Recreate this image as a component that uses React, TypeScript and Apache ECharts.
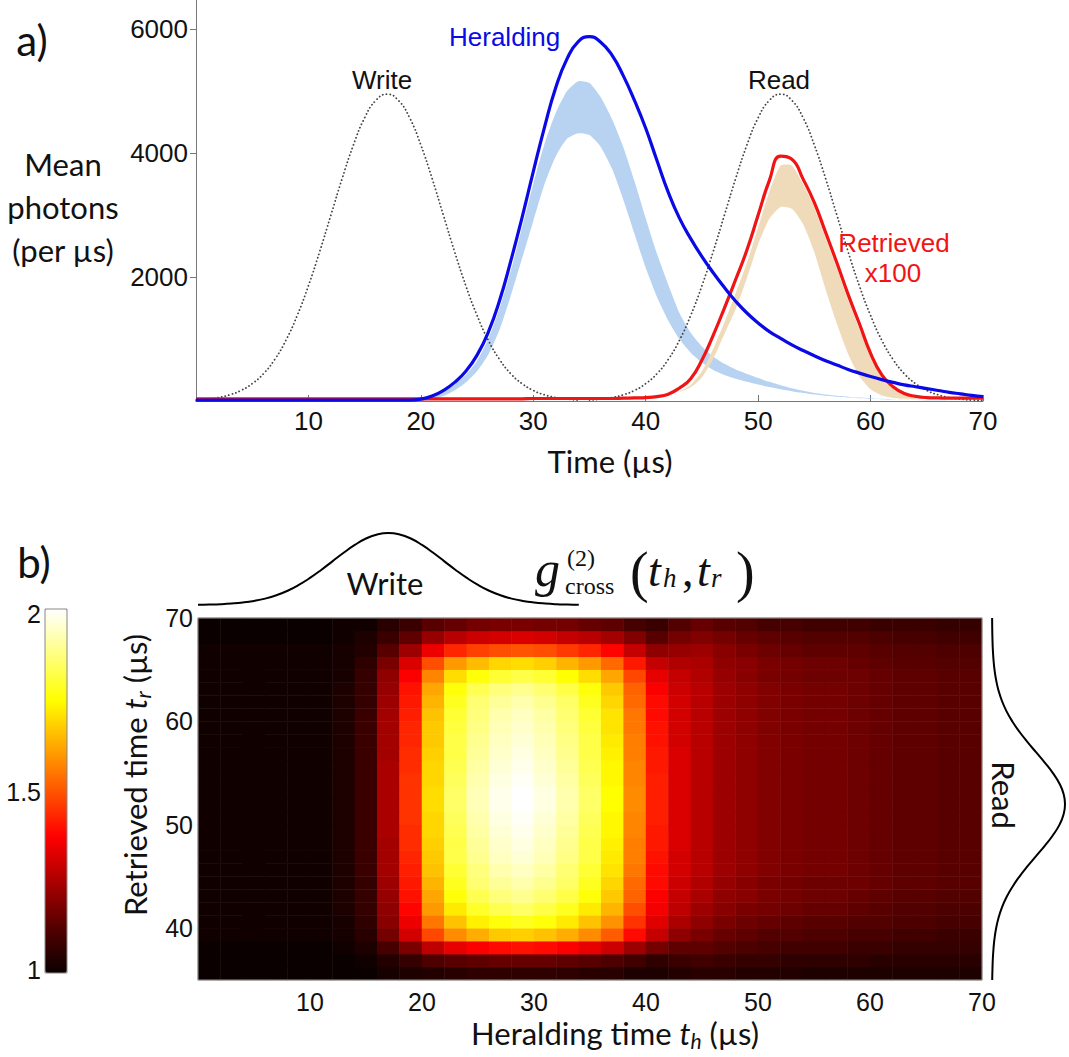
import React, { useEffect, useRef } from "react";
import * as echarts from "echarts";

// ---------------- Panel a data (time in µs, mean photons per µs) ----------------
const times = [0,1,2,3,4,5,6,7,8,9,10,11,12,13,14,15,16,17,18,19,20,21,22,23,24,25,26,27,28,29,30,31,32,33,34,35,36,37,38,39,40,41,42,43,44,45,46,47,48,49,50,51,52,53,54,55,56,57,58,59,60,61,62,63,64,65,66,67,68,69,70];

const heraldingMean = [15,15,15,15,15,15,15,15,15,15,15,15,15,15,15,15,15,15,15,15,
  30,80,170,300,480,740,1110,1620,2260,2960,3700,4420,5060,5520,5800,5880,5790,5580,5250,4850,
  4400,3880,3370,2950,2620,2330,2070,1830,1610,1420,1260,1120,1010,905,815,730,650,580,510,450,
  395,345,300,260,230,200,170,140,115,90,70];

const heraldingBandHigh = [0,0,0,0,0,0,0,0,0,0,0,0,0,0,0,0,0,0,0,0,
  20,70,150,270,420,650,1000,1500,2100,2800,3500,4150,4650,5000,5160,5130,4900,4550,4100,3550,
  2950,2380,1880,1420,1100,880,720,600,510,440,370,310,255,205,165,130,105,85,70,57,
  46,37,30,24,19,15,12,9,7,6,5];

const heraldingBandLow = [0,0,0,0,0,0,0,0,0,0,0,0,0,0,0,0,0,0,0,0,
  0,30,80,170,300,480,750,1150,1700,2300,2900,3500,3950,4230,4320,4290,4100,3750,3250,2700,
  2150,1680,1300,1000,780,620,500,420,360,310,265,225,190,158,130,105,85,68,56,45,
  37,30,24,19,15,12,9,7,5,4,3];

const retrievedMean = [35,35,35,35,35,35,35,35,35,35,35,35,35,35,35,35,35,35,35,35,
  35,35,35,35,35,35,35,35,35,35,40,40,40,40,40,40,40,40,45,50,
  55,70,110,210,360,660,1060,1500,1960,2435,3000,3560,3950,3900,3580,3200,2720,2230,1720,1250,
  770,420,230,120,75,55,50,45,45,45,45];

const retrievedBandTimes = [43,44,45,46,47,48,49,50,51,52,53,54,55,56,57,58,59,60,61,62,63,64];
const retrievedBandHigh = [150,260,480,840,1270,1740,2230,2800,3380,3800,3800,3500,3120,2630,2140,1630,1170,710,380,200,105,65];
const retrievedBandLow = [140,220,380,680,1080,1480,1980,2530,2940,3130,3100,2850,2400,1800,1250,760,400,190,90,50,35,30];

const writeTimes = [0,1,2,3,4,5,6,7,8,9,10,11,12,13,14,15,16,17,18,19,20,21,22,23,24,25,26,27,28,29,30,31,32,33,34];
const writePulse = [15,30,55,100,170,280,440,670,980,1380,1860,2410,3000,3590,4130,4570,4850,4950,4850,4570,4130,3590,3000,2410,1860,1380,980,670,440,280,170,100,55,30,15];

const readTimes = [35,36,37,38,39,40,41,42,43,44,45,46,47,48,49,50,51,52,53,54,55,56,57,58,59,60,61,62,63,64,65,66,67,68,69,70];
const readPulse = [15,30,55,100,170,280,440,670,980,1380,1860,2410,3000,3590,4130,4570,4850,4950,4850,4570,4130,3590,3000,2410,1860,1380,980,670,440,280,170,100,55,30,15,8];

const xTicksA = [10,20,30,40,50,60,70];
const yTicksA = [2000,4000,6000];

// ---------------- Panel b data: g2_cross(t_h, t_r) ----------------
const heatTh = [1,3,5,7,9,11,13,15,17,19,21,23,25,27,29,31,33,35,37,39,41,43,45,47,49,51,53,55,57,59,61,63,65,67,69];
const heatTr = [35.625,36.875,38.125,39.375,40.625,41.875,43.125,44.375,45.625,46.875,48.125,49.375,50.625,51.875,53.125,54.375,55.625,56.875,58.125,59.375,60.625,61.875,63.125,64.375,65.625,66.875,68.125,69.375];
// rows from bottom (t_r = 35.6) to top (t_r = 69.4); columns t_h = 1..69
const g2Rows = [
  [1.00,1.00,1.00,1.00,1.00,1.00,1.00,1.00,1.02,1.03,1.04,1.05,1.06,1.06,1.06,1.06,1.06,1.05,1.05,1.03,1.03,1.04,1.05,1.05,1.04,1.04,1.04,1.03,1.03,1.03,1.03,1.03,1.03,1.03,1.03],
  [1.00,1.00,1.00,1.00,1.00,1.00,1.00,1.01,1.04,1.07,1.11,1.13,1.14,1.15,1.15,1.15,1.14,1.13,1.11,1.09,1.06,1.08,1.09,1.08,1.07,1.07,1.06,1.06,1.06,1.06,1.05,1.05,1.05,1.05,1.05],
  [1.00,1.00,1.00,1.00,1.00,1.00,1.01,1.03,1.10,1.18,1.28,1.34,1.37,1.39,1.40,1.39,1.37,1.34,1.30,1.23,1.17,1.14,1.14,1.12,1.11,1.10,1.09,1.09,1.09,1.08,1.08,1.07,1.07,1.07,1.07],
  [1.01,1.01,1.01,1.01,1.01,1.01,1.02,1.05,1.17,1.31,1.48,1.58,1.63,1.67,1.68,1.66,1.63,1.58,1.51,1.39,1.29,1.21,1.18,1.15,1.14,1.12,1.12,1.11,1.11,1.10,1.10,1.09,1.09,1.08,1.08],
  [1.01,1.01,1.01,1.01,1.01,1.01,1.02,1.06,1.20,1.35,1.55,1.66,1.73,1.76,1.78,1.76,1.72,1.66,1.59,1.45,1.33,1.25,1.21,1.18,1.16,1.15,1.14,1.13,1.13,1.12,1.12,1.11,1.11,1.10,1.10],
  [1.01,1.01,1.01,1.01,1.01,1.01,1.03,1.07,1.21,1.38,1.60,1.72,1.79,1.83,1.85,1.82,1.78,1.72,1.64,1.49,1.36,1.28,1.23,1.20,1.18,1.17,1.16,1.15,1.15,1.14,1.13,1.12,1.12,1.11,1.11],
  [1.01,1.01,1.01,1.01,1.01,1.01,1.03,1.07,1.22,1.40,1.62,1.76,1.83,1.87,1.89,1.86,1.82,1.76,1.67,1.52,1.37,1.29,1.25,1.21,1.20,1.18,1.17,1.16,1.16,1.15,1.14,1.13,1.13,1.12,1.12],
  [1.01,1.01,1.01,1.01,1.01,1.01,1.03,1.07,1.23,1.41,1.64,1.78,1.86,1.90,1.92,1.89,1.85,1.78,1.69,1.53,1.39,1.30,1.26,1.22,1.20,1.18,1.17,1.16,1.16,1.16,1.15,1.14,1.14,1.13,1.13],
  [1.01,1.01,1.01,1.01,1.01,1.01,1.03,1.08,1.24,1.42,1.66,1.80,1.87,1.92,1.94,1.91,1.86,1.80,1.71,1.55,1.39,1.31,1.27,1.23,1.21,1.19,1.18,1.17,1.17,1.16,1.15,1.14,1.14,1.13,1.13],
  [1.01,1.01,1.01,1.01,1.01,1.01,1.03,1.08,1.24,1.43,1.67,1.82,1.89,1.94,1.96,1.93,1.88,1.82,1.72,1.56,1.40,1.31,1.27,1.23,1.21,1.19,1.18,1.17,1.17,1.16,1.15,1.14,1.14,1.13,1.13],
  [1.01,1.01,1.01,1.01,1.01,1.01,1.03,1.08,1.24,1.44,1.68,1.82,1.90,1.95,1.97,1.94,1.89,1.82,1.73,1.56,1.41,1.32,1.27,1.23,1.21,1.19,1.18,1.17,1.17,1.16,1.15,1.14,1.14,1.13,1.13],
  [1.01,1.01,1.01,1.01,1.01,1.01,1.03,1.08,1.25,1.44,1.69,1.83,1.91,1.96,1.98,1.95,1.90,1.83,1.74,1.57,1.41,1.32,1.27,1.23,1.21,1.19,1.18,1.17,1.17,1.16,1.15,1.14,1.14,1.13,1.13],
  [1.01,1.01,1.01,1.01,1.01,1.01,1.03,1.08,1.25,1.45,1.69,1.84,1.92,1.97,1.99,1.96,1.91,1.84,1.74,1.57,1.42,1.32,1.27,1.23,1.21,1.19,1.18,1.17,1.17,1.16,1.15,1.14,1.14,1.13,1.13],
  [1.01,1.01,1.01,1.01,1.01,1.01,1.03,1.08,1.25,1.45,1.70,1.85,1.93,1.98,2.00,1.97,1.92,1.85,1.75,1.58,1.42,1.32,1.27,1.23,1.21,1.19,1.18,1.17,1.17,1.16,1.15,1.14,1.14,1.13,1.13],
  [1.01,1.01,1.01,1.01,1.01,1.01,1.03,1.08,1.25,1.45,1.70,1.85,1.93,1.98,2.00,1.97,1.92,1.85,1.75,1.58,1.42,1.32,1.27,1.23,1.21,1.19,1.18,1.17,1.17,1.16,1.15,1.14,1.14,1.13,1.13],
  [1.01,1.01,1.01,1.01,1.01,1.01,1.03,1.08,1.25,1.45,1.69,1.84,1.92,1.97,1.99,1.96,1.91,1.84,1.74,1.57,1.42,1.32,1.27,1.23,1.21,1.19,1.18,1.17,1.17,1.16,1.15,1.14,1.14,1.13,1.13],
  [1.01,1.01,1.01,1.01,1.01,1.01,1.03,1.08,1.25,1.44,1.69,1.83,1.91,1.96,1.98,1.95,1.90,1.83,1.74,1.57,1.41,1.32,1.27,1.23,1.21,1.19,1.18,1.17,1.17,1.16,1.15,1.14,1.14,1.13,1.13],
  [1.01,1.01,1.01,1.01,1.01,1.01,1.03,1.08,1.24,1.44,1.68,1.82,1.90,1.95,1.97,1.94,1.89,1.82,1.73,1.56,1.41,1.32,1.27,1.23,1.21,1.19,1.18,1.17,1.17,1.16,1.15,1.14,1.14,1.13,1.13],
  [1.01,1.01,1.01,1.01,1.01,1.01,1.03,1.08,1.24,1.43,1.67,1.82,1.89,1.94,1.96,1.93,1.88,1.82,1.72,1.56,1.40,1.31,1.27,1.23,1.21,1.19,1.18,1.17,1.17,1.16,1.15,1.14,1.14,1.13,1.13],
  [1.01,1.01,1.01,1.01,1.01,1.01,1.03,1.08,1.24,1.43,1.67,1.81,1.88,1.93,1.95,1.92,1.87,1.81,1.71,1.55,1.40,1.31,1.27,1.23,1.21,1.19,1.18,1.17,1.17,1.16,1.15,1.14,1.14,1.13,1.13],
  [1.01,1.01,1.01,1.01,1.01,1.01,1.03,1.08,1.24,1.42,1.66,1.80,1.87,1.92,1.94,1.91,1.86,1.80,1.71,1.55,1.39,1.31,1.27,1.23,1.21,1.19,1.18,1.17,1.17,1.16,1.15,1.14,1.14,1.13,1.13],
  [1.01,1.01,1.01,1.01,1.01,1.01,1.03,1.07,1.23,1.41,1.64,1.78,1.86,1.90,1.92,1.89,1.85,1.78,1.69,1.53,1.39,1.31,1.27,1.23,1.21,1.19,1.18,1.17,1.17,1.16,1.15,1.14,1.14,1.13,1.13],
  [1.01,1.01,1.01,1.01,1.01,1.01,1.03,1.07,1.22,1.40,1.62,1.76,1.83,1.87,1.89,1.86,1.82,1.76,1.67,1.52,1.37,1.30,1.27,1.23,1.21,1.19,1.18,1.17,1.17,1.16,1.15,1.14,1.14,1.13,1.13],
  [1.01,1.01,1.01,1.01,1.01,1.01,1.02,1.07,1.21,1.37,1.57,1.70,1.76,1.80,1.82,1.80,1.75,1.70,1.62,1.48,1.34,1.29,1.26,1.22,1.20,1.18,1.17,1.16,1.16,1.16,1.15,1.14,1.14,1.13,1.13],
  [1.01,1.01,1.01,1.01,1.01,1.01,1.02,1.06,1.18,1.32,1.49,1.60,1.65,1.69,1.70,1.68,1.64,1.60,1.53,1.41,1.29,1.26,1.25,1.21,1.20,1.18,1.17,1.16,1.16,1.15,1.14,1.13,1.13,1.12,1.12],
  [1.01,1.01,1.01,1.01,1.01,1.01,1.02,1.04,1.13,1.23,1.35,1.43,1.47,1.49,1.50,1.49,1.46,1.43,1.38,1.29,1.21,1.22,1.23,1.20,1.18,1.16,1.15,1.14,1.14,1.14,1.13,1.12,1.12,1.11,1.11],
  [1.00,1.00,1.00,1.00,1.00,1.00,1.01,1.03,1.08,1.14,1.22,1.27,1.30,1.31,1.32,1.31,1.29,1.27,1.24,1.19,1.13,1.17,1.19,1.17,1.15,1.14,1.13,1.12,1.12,1.12,1.11,1.10,1.10,1.09,1.09],
  [1.00,1.00,1.00,1.00,1.00,1.00,1.01,1.01,1.05,1.08,1.13,1.15,1.17,1.18,1.18,1.17,1.17,1.15,1.14,1.10,1.08,1.12,1.15,1.13,1.12,1.10,1.10,1.09,1.09,1.09,1.08,1.08,1.08,1.07,1.07],
];
const xTicksB = [10,20,30,40,50,60,70];
const yTicksB = [40,50,60,70];
const colorTicks = [1,1.5,2];

// ---------------- styles ----------------
const HOT = ["#0b0000","#550000","#aa0000","#ff0000","#ff5500","#ffaa00","#ffff00","#ffff80","#ffffff"];
const SANS = "Liberation Sans, Arial, sans-serif";
const CAL = "Lato, 'Open Sans', sans-serif";
const SERIF = "'Liberation Serif', 'Times New Roman', serif";
const BLUE = "#0a0ae6";
const RED = "#f01414";
const TXT = "#111111";

function txt(x: number, y: number, text: string, o: any = {}) {
  return {
    type: "text",
    x, y, z: 100,
    rotation: o.rotation || 0,
    style: {
      text,
      fill: o.fill || TXT,
      fontSize: o.fontSize || 26,
      fontFamily: o.fontFamily || SANS,
      fontStyle: o.fontStyle || "normal",
      align: o.align || "center",
      verticalAlign: "middle",
      lineHeight: o.lineHeight,
      rich: o.rich,
    },
  };
}

function band(ts: number[], hi: number[], lo: number[], color: string) {
  return {
    type: "custom",
    xAxisIndex: 0,
    yAxisIndex: 0,
    silent: true,
    data: [[ts[0], lo[0]]],
    renderItem: (params: any, api: any) => {
      const up = ts.map((t, i) => api.coord([t, hi[i]]));
      const dn = ts.map((t, i) => api.coord([t, lo[i]])).reverse();
      return {
        type: "polygon",
        shape: { points: up.concat(dn), smooth: 0.2 },
        style: { fill: color, stroke: "none" },
      };
    },
  };
}

export default function App() {
  const ref = useRef<HTMLDivElement>(null);
  useEffect(() => {
    if (!ref.current) return;
    const chart = echarts.init(ref.current, null, { renderer: "svg" });

    const lineBase = { type: "line", symbol: "none", smooth: true, silent: true };

    const blueT = times.filter((t) => t >= 20);
    const blueHi = blueT.map((t) => heraldingBandHigh[times.indexOf(t)]);
    const blueLo = blueT.map((t) => heraldingBandLow[times.indexOf(t)]);

    const cells: number[][] = [];
    g2Rows.forEach((row, j) => row.forEach((v, i) => cells.push([i, j, v])));

    const gridCommon = { containLabel: false, outerBoundsMode: "none", show: false };
    const plain = (v: number) => String(v);

    const option: any = {
      animation: false,
      backgroundColor: "#ffffff",
      grid: [
        { ...gridCommon, left: 196, top: 0, width: 787, height: 401 },
        { ...gridCommon, left: 198, top: 618, width: 784, height: 362 },
        { ...gridCommon, left: 198, top: 618, width: 784, height: 362 },
        { ...gridCommon, left: 198, top: 530, width: 784, height: 75 },
        { ...gridCommon, left: 992, top: 618, width: 75, height: 362 },
        { ...gridCommon, left: 45, top: 614, width: 22, height: 356 },
      ],
      xAxis: [
        {
          type: "value", gridIndex: 0, min: 0, max: 70, interval: 10,
          axisLine: { show: true, lineStyle: { color: "#777", width: 1 } },
          axisTick: { show: true, inside: true, length: 6, lineStyle: { color: "#777" }, customValues: xTicksA },
          axisLabel: { show: true, customValues: xTicksA, formatter: plain, fontSize: 26, fontFamily: SANS, color: TXT, margin: 7 },
          splitLine: { show: false },
        },
        { type: "category", gridIndex: 1, data: heatTh.map(String), show: false },
        {
          type: "value", gridIndex: 2, min: 0, max: 70, interval: 10,
          axisLine: { show: false }, axisTick: { show: false },
          axisLabel: { show: true, customValues: xTicksB, formatter: plain, fontSize: 25, fontFamily: SANS, color: TXT, margin: 9 },
          splitLine: { show: false },
        },
        { type: "value", gridIndex: 3, min: 0, max: 70, show: false },
        { type: "value", gridIndex: 4, min: 0, max: 5085, show: false },
        { type: "value", gridIndex: 5, min: 0, max: 1, show: false },
      ],
      yAxis: [
        {
          type: "value", gridIndex: 0, min: 0, max: 6470,
          axisLine: { show: true, lineStyle: { color: "#777", width: 1 } },
          axisTick: { show: true, inside: false, length: 6, lineStyle: { color: "#777" }, customValues: yTicksA },
          axisLabel: { show: true, customValues: yTicksA, formatter: plain, fontSize: 26, fontFamily: SANS, color: TXT, margin: 8 },
          splitLine: { show: false },
        },
        { type: "category", gridIndex: 1, data: heatTr.map(String), show: false },
        {
          type: "value", gridIndex: 2, min: 35, max: 70,
          axisLine: { show: false }, axisTick: { show: false },
          axisLabel: { show: true, customValues: yTicksB, formatter: plain, fontSize: 25, fontFamily: SANS, color: TXT, margin: 5 },
          splitLine: { show: false },
        },
        { type: "value", gridIndex: 3, min: 0, max: 5156, show: false },
        { type: "value", gridIndex: 4, min: 35, max: 70, show: false },
        {
          type: "value", gridIndex: 5, min: 1, max: 2,
          axisLine: { show: false }, axisTick: { show: false },
          axisLabel: { show: true, customValues: colorTicks, formatter: plain, fontSize: 25, fontFamily: SANS, color: TXT, margin: 4 },
          splitLine: { show: false },
        },
      ],
      visualMap: [
        {
          type: "continuous", seriesIndex: 0, dimension: 2, min: 1, max: 2,
          inRange: { color: HOT }, left: 45, top: 609, itemWidth: 22, itemHeight: 364,
          calculable: false, show: true, padding: 0, hoverLink: false, orient: "vertical",
        },
      ],
      series: [
        {
          type: "heatmap", xAxisIndex: 1, yAxisIndex: 1, data: cells, silent: true,
          itemStyle: { borderWidth: 0 }, emphasis: { disabled: true }, progressive: 0,
        },
        band(blueT, blueHi, blueLo, "#b8d3f1"),
        band(retrievedBandTimes, retrievedBandHigh, retrievedBandLow, "#efdbba"),
        { ...lineBase, xAxisIndex: 0, yAxisIndex: 0, data: writeTimes.map((t, i) => [t, writePulse[i]]), lineStyle: { color: "#444", width: 1.8, type: [0.1, 3.6], cap: "round" } },
        { ...lineBase, xAxisIndex: 0, yAxisIndex: 0, data: readTimes.map((t, i) => [t, readPulse[i]]), lineStyle: { color: "#444", width: 1.8, type: [0.1, 3.6], cap: "round" } },
        { ...lineBase, xAxisIndex: 0, yAxisIndex: 0, data: times.map((t, i) => [t, retrievedMean[i]]), lineStyle: { color: RED, width: 3.2 } },
        { ...lineBase, xAxisIndex: 0, yAxisIndex: 0, data: times.map((t, i) => [t, heraldingMean[i]]), lineStyle: { color: BLUE, width: 3.2 } },
        { ...lineBase, xAxisIndex: 3, yAxisIndex: 3, data: writeTimes.map((t, i) => [t, writePulse[i]]), lineStyle: { color: "#000", width: 2 } },
        { ...lineBase, xAxisIndex: 4, yAxisIndex: 4, data: readTimes.map((t, i) => [readPulse[i], t]), lineStyle: { color: "#000", width: 2 } },
      ],
      graphic: {
        elements: [
          // panel a
          txt(32, 40, "a)", { fontSize: 42, fontFamily: CAL }),
          txt(63, 207, "Mean\nphotons\n(per µs)", { fontSize: 31, fontFamily: CAL, lineHeight: 43 }),
          txt(610, 461, "Time (µs)", { fontSize: 31, fontFamily: CAL }),
          txt(449, 37, "Heralding", { fill: BLUE, align: "left" }),
          txt(382, 80, "Write"),
          txt(779, 80, "Read"),
          txt(894, 243, "Retrieved", { fill: RED }),
          txt(893, 273, "x100", { fill: RED }),
          // panel b
          txt(34, 562, "b)", { fontSize: 42, fontFamily: CAL }),
          txt(385, 583, "Write", { fontSize: 31, fontFamily: CAL }),
          txt(1004, 795, "Read", { fontSize: 31, fontFamily: CAL, rotation: -Math.PI / 2 }),
          txt(615, 1033, "{n|Heralding time }{i|t}{s|h}{n| (µs)}", {
            fontSize: 31, fontFamily: CAL,
            rich: {
              n: { fontSize: 31, fontFamily: CAL, fill: TXT, lineHeight: 36 },
              i: { fontSize: 31, fontFamily: CAL, fontStyle: "italic", fill: TXT, lineHeight: 36 },
              s: { fontSize: 21, fontFamily: CAL, fontStyle: "italic", fill: TXT, lineHeight: 20, verticalAlign: "bottom" },
            },
          }),
          txt(135, 775, "{n|Retrieved time }{i|t}{s|r}{n| (µs)}", {
            fontSize: 31, fontFamily: CAL, rotation: Math.PI / 2,
            rich: {
              n: { fontSize: 31, fontFamily: CAL, fill: TXT, lineHeight: 36 },
              i: { fontSize: 31, fontFamily: CAL, fontStyle: "italic", fill: TXT, lineHeight: 36 },
              s: { fontSize: 21, fontFamily: CAL, fontStyle: "italic", fill: TXT, lineHeight: 20, verticalAlign: "bottom" },
            },
          }),
          // g2 title
          txt(535, 569, "g", { fontSize: 50, fontFamily: SERIF, fontStyle: "italic", align: "left" }),
          txt(567, 558, "(2)", { fontSize: 24, fontFamily: SERIF, align: "left" }),
          txt(565, 586, "cross", { fontSize: 24, fontFamily: SERIF, align: "left" }),
          txt(630, 572, "(", { fontSize: 56, fontFamily: SERIF, align: "left" }),
          txt(648, 570, "t", { fontSize: 46, fontFamily: SERIF, fontStyle: "italic", align: "left" }),
          txt(663, 578, "h", { fontSize: 27, fontFamily: SERIF, fontStyle: "italic", align: "left" }),
          txt(682, 570, ",", { fontSize: 46, fontFamily: SERIF, align: "left" }),
          txt(697, 570, "t", { fontSize: 46, fontFamily: SERIF, fontStyle: "italic", align: "left" }),
          txt(711, 578, "r", { fontSize: 27, fontFamily: SERIF, fontStyle: "italic", align: "left" }),
          txt(736, 572, ")", { fontSize: 56, fontFamily: SERIF, align: "left" }),
          // frames
          { type: "rect", z: 90, shape: { x: 198, y: 618, width: 784, height: 362 }, style: { fill: "none", stroke: "#999", lineWidth: 1 } },
          { type: "rect", z: 90, shape: { x: 45, y: 609, width: 22, height: 364 }, style: { fill: "none", stroke: "#888", lineWidth: 1 } },
        ],
      },
    };
    chart.setOption(option);
    return () => chart.dispose();
  }, []);
  return <div ref={ref} style={{ position: "absolute", left: 0, top: 0, width: 1069, height: 1057 }} />;
}
